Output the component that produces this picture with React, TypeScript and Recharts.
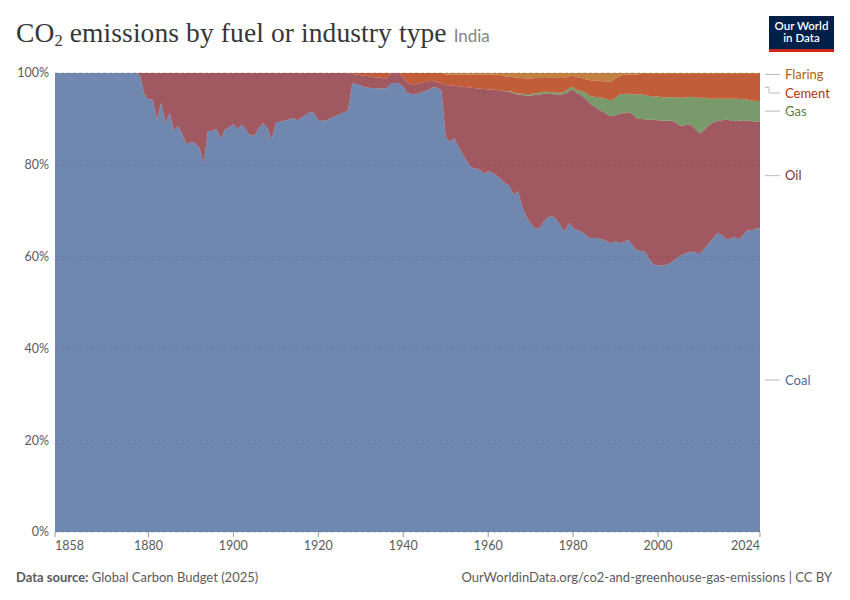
import React from "react";
import {
  AreaChart,
  Area,
  XAxis,
  YAxis,
  CartesianGrid,
  ReferenceDot,
} from "recharts";

// Years 1858..2024 (categories)
const YEARS: number[] = Array.from({ length: 167 }, (_, i) => 1858 + i);

// Shares of total CO2 emissions (%)
const COAL: number[] = [
  100, 100, 100, 100, 100, 100, 100, 100, 100, 100, 100, 100, 100, 100, 100, 100, 100, 100, 100, 100,
  99.5, 95.5, 94.2, 94.2, 89.8, 93.5, 89.1, 91.3, 87.4, 88.4,
  86.6, 84.4, 85.0, 84.7, 83.7, 80.4, 87.3, 87.4, 87.8, 85.8,
  87.6, 88.2, 88.9, 87.8, 88.7, 87.6, 86.4, 86.4, 88.0, 89.1,
  88.0, 85.5, 89.1, 89.4, 89.6, 89.8, 90.2, 89.7, 90.2, 90.8,
  91.5, 91.3, 89.6, 89.6, 89.7, 90.2, 90.6, 91.0, 91.4, 91.9,
  97.7, 97.6, 97.3, 96.9, 96.8, 96.7, 96.6, 96.6, 96.6, 97.6,
  97.8, 97.8, 97.0, 95.6, 95.4, 95.3, 95.7, 96.0, 96.3, 96.9,
  96.8, 96.2, 86.0, 85.0, 85.8, 84.0, 82.3, 80.7, 79.4, 79.2,
  78.9, 78.1, 78.6, 78.2, 77.6, 76.8, 76.0, 75.4, 73.4, 74.3,
  70.9, 68.7, 67.2, 66.2, 66.1, 67.5, 68.5, 68.8, 68.2, 66.8,
  65.4, 67.3, 66.2, 65.8, 65.4, 64.7, 63.9, 64.1, 63.9, 63.8,
  63.3, 62.9, 63.4, 62.9, 63.2, 63.6, 62.5, 61.4, 61.2, 61.0,
  59.3, 58.2, 58.1, 58.0, 58.2, 58.6, 59.3, 60.0, 60.5, 60.9,
  61.1, 60.8, 60.8, 61.8, 63.0, 64.0, 65.2, 64.7, 63.8, 63.9,
  64.2, 63.8, 64.6, 65.8, 65.6, 66.2, 66.2,
];

const OIL: number[] = [
  0, 0, 0, 0, 0, 0, 0, 0, 0, 0, 0, 0, 0, 0, 0, 0, 0, 0, 0, 0,
  0.5, 4.5, 5.8, 5.8, 10.2, 6.5, 10.9, 8.7, 12.6, 11.6,
  13.4, 15.6, 15.0, 15.3, 16.3, 19.6, 12.7, 12.6, 12.2, 14.2,
  12.4, 11.8, 11.1, 12.2, 11.3, 12.4, 13.6, 13.6, 12.0, 10.9,
  12.0, 14.5, 10.9, 10.6, 10.4, 10.2, 9.8, 10.3, 9.8, 9.2,
  8.5, 8.7, 10.4, 10.4, 10.3, 9.8, 9.4, 9.0, 8.6, 8.1,
  2.1, 2.1, 2.2, 2.5, 2.5, 2.4, 2.4, 2.3, 2.1, 2.3,
  2.2, 2.2, 2.0, 2.2, 2.2, 2.2, 2.1, 2.0, 1.9, 1.4,
  1.2, 1.5, 11.4, 12.3, 11.4, 13.1, 14.7, 16.2, 17.4, 17.5,
  17.7, 18.4, 17.8, 18.2, 18.7, 19.4, 20.0, 20.5, 22.2, 21.0,
  24.3, 26.4, 27.9, 29.0, 29.2, 27.9, 27.0, 26.6, 27.1, 28.5,
  30.0, 28.7, 30.2, 29.8, 29.7, 29.6, 29.4, 28.6, 28.1, 27.8,
  27.7, 27.7, 27.4, 28.2, 28.1, 27.9, 28.5, 28.7, 28.8, 28.9,
  30.5, 31.6, 31.6, 31.6, 31.4, 31.0, 30.1, 28.6, 28.0, 28.0,
  27.4, 26.8, 26.0, 26.0, 25.6, 25.2, 24.3, 25.0, 26.0, 25.8,
  25.3, 25.8, 25.1, 23.8, 23.9, 23.2, 23.3,
];

const GAS: number[] = [
  0, 0, 0, 0, 0, 0, 0, 0, 0, 0, 0, 0, 0, 0, 0, 0, 0, 0, 0, 0,
  0, 0, 0, 0, 0, 0, 0, 0, 0, 0, 0, 0, 0, 0, 0, 0, 0, 0, 0, 0,
  0, 0, 0, 0, 0, 0, 0, 0, 0, 0, 0, 0, 0, 0, 0, 0, 0, 0, 0, 0,
  0, 0, 0, 0, 0, 0, 0, 0, 0, 0, 0, 0, 0, 0, 0, 0, 0, 0, 0, 0,
  0, 0, 0, 0, 0, 0, 0, 0, 0, 0, 0, 0, 0, 0, 0, 0, 0, 0, 0, 0,
  0, 0, 0, 0, 0, 0,
  0.1, 0.2, 0.2, 0.2,
  0.3, 0.3, 0.3, 0.4, 0.4, 0.5, 0.4, 0.4, 0.4, 0.4,
  0.5, 0.7, 0.6, 0.6, 1.0, 1.4, 1.7, 2.1, 2.6, 3.0,
  3.2, 3.4, 3.8, 4.2, 4.2, 4.0, 4.3, 5.2, 5.3, 5.3,
  5.2, 5.1, 5.2, 5.1, 5.1, 5.1, 5.3, 6.0, 6.1, 5.8,
  6.3, 7.0, 7.8, 6.8, 5.8, 5.2, 4.9, 4.7, 4.6, 4.7,
  4.9, 4.8, 4.6, 4.6, 4.5, 4.5, 4.4,
];

const CEMENT: number[] = [
  0, 0, 0, 0, 0, 0, 0, 0, 0, 0, 0, 0, 0, 0, 0, 0, 0, 0, 0, 0,
  0, 0, 0, 0, 0, 0, 0, 0, 0, 0, 0, 0, 0, 0, 0, 0, 0, 0, 0, 0,
  0, 0, 0, 0, 0, 0, 0, 0, 0, 0, 0, 0, 0, 0, 0, 0, 0, 0, 0, 0,
  0, 0, 0, 0, 0, 0, 0, 0, 0, 0,
  0.2, 0.3, 0.5, 0.6, 0.7, 0.9, 1.0, 1.1, 1.3, 0.1,
  0.0, 0.0, 1.0, 2.2, 2.4, 2.5, 2.2, 2.0, 1.8, 1.7,
  2.0, 2.3, 2.3, 2.4, 2.5, 2.6, 2.7, 2.8, 2.9, 3.0,
  3.1, 3.2, 3.3, 3.3, 3.4, 3.3, 3.2, 3.1, 3.3, 3.5,
  3.4, 3.4, 3.4, 3.3, 3.2, 3.0, 3.0, 3.1, 3.2, 3.2,
  3.0, 2.6, 2.4, 2.9, 2.8, 2.9, 3.4, 3.5, 3.7, 3.6,
  3.9, 4.1, 4.3, 4.1, 4.1, 4.2, 4.4, 4.4, 4.5, 4.6,
  4.8, 4.9, 4.9, 5.1, 5.1, 5.1, 5.1, 5.2, 5.2, 5.1,
  5.0, 5.2, 5.2, 5.2, 5.4, 5.4, 5.4, 5.4, 5.4, 5.4,
  5.4, 5.4, 5.5, 5.6, 5.8, 5.9, 5.9,
];

const FLARING: number[] = [
  0, 0, 0, 0, 0, 0, 0, 0, 0, 0, 0, 0, 0, 0, 0, 0, 0, 0, 0, 0,
  0, 0, 0, 0, 0, 0, 0, 0, 0, 0, 0, 0, 0, 0, 0, 0, 0, 0, 0, 0,
  0, 0, 0, 0, 0, 0, 0, 0, 0, 0, 0, 0, 0, 0, 0, 0, 0, 0, 0, 0,
  0, 0, 0, 0, 0, 0, 0, 0, 0, 0, 0, 0, 0, 0, 0, 0, 0, 0, 0, 0,
  0, 0, 0, 0, 0, 0, 0, 0, 0, 0, 0, 0,
  0.3, 0.3, 0.3, 0.3, 0.3, 0.3, 0.3, 0.3, 0.3, 0.3, 0.3, 0.3, 0.3,
  0.5, 0.7, 0.8, 0.9, 1.0, 1.1, 1.2, 1.2, 1.1, 1.1,
  1.1, 1.1, 1.1, 1.1, 1.1, 1.1, 0.7, 0.6, 0.9, 1.1,
  1.4, 1.6, 1.7, 1.7, 1.8, 1.9, 1.9, 1.1, 0.6, 0.4,
  0.3, 0.3, 0.3, 0.2, 0.2, 0.2, 0.2, 0.2, 0.2, 0.2,
  0.2, 0.2, 0.2, 0.2, 0.2, 0.2, 0.2, 0.2, 0.2, 0.2, 0.2,
  0.2, 0.2, 0.2, 0.2, 0.2, 0.2, 0.2, 0.2, 0.2, 0.2, 0.2,
];

const X_TICKS: number[] = [1858, 1880, 1900, 1920, 1940, 1960, 1980, 2000, 2024];
const Y_TICKS: number[] = [0, 0.2, 0.4, 0.6, 0.8, 1];

type Series = { key: string; name: string; color: string; values: number[]; labelDy: number };

const SERIES: Series[] = [
  { key: "coal", name: "Coal", color: "#4C6A9C", values: COAL, labelDy: 0 },
  { key: "oil", name: "Oil", color: "#883039", values: OIL, labelDy: 1 },
  { key: "gas", name: "Gas", color: "#578145", values: GAS, labelDy: 0 },
  { key: "cement", name: "Cement", color: "#B13507", values: CEMENT, labelDy: 5.5 },
  { key: "flaring", name: "Flaring", color: "#B16214", values: FLARING, labelDy: 1 },
];

const data = YEARS.map((year, i) => {
  const row: Record<string, number> = { year };
  SERIES.forEach((s) => {
    row[s.key] = s.values[i];
  });
  return row;
});

// legend anchor positions (midpoint of each band in last year)
const lastIdx = YEARS.length - 1;
const lastTotal = SERIES.reduce((a, s) => a + s.values[lastIdx], 0);
let cum = 0;
const legendAnchors = SERIES.map((s) => {
  const v = s.values[lastIdx];
  const mid = (cum + v / 2) / lastTotal;
  cum += v;
  return { ...s, mid };
});

const FONT = "Lato, 'Noto Sans', sans-serif";

const XTick = (props: any) => {
  const { x, y, payload } = props;
  const v = payload.value;
  const anchor = v === X_TICKS[0] ? "start" : v === X_TICKS[X_TICKS.length - 1] ? "end" : "middle";
  return (
    <text x={x} y={y} dy="0.71em" textAnchor={anchor} fill="#5b5b5b" fontSize={12.5} fontFamily={FONT}>
      {v}
    </text>
  );
};

const LegendMark = (props: any) => {
  const { cx, cy, name, color, labelDy } = props;
  if (cx == null || cy == null) return null;
  const ly = cy + labelDy;
  const d =
    Math.abs(labelDy) > 2
      ? `M${cx + 5},${cy} H${cx + 9} V${ly} H${cx + 20}`
      : `M${cx + 5},${ly} H${cx + 20}`;
  return (
    <g>
      <path d={d} stroke="#bbbbbb" strokeWidth={1} fill="none" />
      <text x={cx + 25} y={ly} dy="0.35em" fill={color} fontSize={13} fontFamily={FONT}>
        {name}
      </text>
    </g>
  );
};

export default function App() {
  return (
    <div
      style={{
        position: "absolute",
        left: 0,
        top: 0,
        width: 850,
        height: 600,
        background: "#fff",
        fontFamily: FONT,
        overflow: "hidden",
      }}
    >
      <div
        style={{
          position: "absolute",
          left: 16,
          top: 16,
          whiteSpace: "nowrap",
          color: "#373737",
          fontFamily: "'Liberation Serif', 'DejaVu Serif', serif",
          fontSize: 27.5,
          lineHeight: "34px",
          letterSpacing: "0.1px",
        }}
      >
        CO<sub style={{ fontSize: "0.6em", verticalAlign: "-0.25em" }}>2</sub> emissions by fuel or industry type{" "}
        <span style={{ fontFamily: FONT, fontSize: 17, color: "#858585", letterSpacing: 0 }}>India</span>
      </div>

      <div
        style={{
          position: "absolute",
          left: 769,
          top: 16,
          width: 65,
          height: 36,
          background: "#002147",
          borderBottom: "3px solid #ce261e",
          boxSizing: "border-box",
          color: "#fff",
          fontFamily: FONT,
          fontSize: 11.5,
          fontWeight: 600,
          lineHeight: "12px",
          textAlign: "center",
          paddingTop: 4,
        }}
      >
        Our World
        <br />
        in Data
      </div>

      <div style={{ position: "absolute", left: 0, top: 0 }}>
        <AreaChart
          width={850}
          height={600}
          data={data}
          stackOffset="expand"
          margin={{ top: 73, right: 90, bottom: 38, left: 0 }}
        >
          <CartesianGrid vertical={false} stroke="#c4c4c4" strokeDasharray="3 3" />
          <XAxis
            dataKey="year"
            type="number"
            domain={[1858, 2024]}
            ticks={X_TICKS}
            interval={0}
            height={30}
            axisLine={false}
            tickLine={{ stroke: "#999999" }}
            tickSize={5}
            tickMargin={4}
            tick={<XTick />}
          />
          <YAxis
            type="number"
            domain={[0, 1]}
            ticks={Y_TICKS}
            width={55}
            axisLine={false}
            tickLine={false}
            tickSize={0}
            tickMargin={6}
            tickFormatter={(v: number) => `${Math.round(v * 100)}%`}
            tick={{ fill: "#5b5b5b", fontSize: 12.5, fontFamily: FONT }}
          />
          {SERIES.map((s) => (
            <Area
              key={s.key}
              type="linear"
              dataKey={s.key}
              name={s.name}
              stackId="1"
              stroke="none"
              fill={s.color}
              fillOpacity={0.8}
              isAnimationActive={false}
              dot={false}
              activeDot={false}
            />
          ))}
          {legendAnchors.map((s) => (
            <ReferenceDot
              key={`lg-${s.key}`}
              x={2024}
              y={s.mid}
              r={0}
              ifOverflow="visible"
              shape={(p: any) => <LegendMark {...p} name={s.name} color={s.color} labelDy={s.labelDy} />}
            />
          ))}
        </AreaChart>
      </div>

      <div
        style={{
          position: "absolute",
          left: 16,
          top: 568,
          fontSize: 13,
          color: "#5b5b5b",
          whiteSpace: "nowrap",
          lineHeight: "18px",
        }}
      >
        <span style={{ fontWeight: 700 }}>Data source:</span> Global Carbon Budget (2025)
      </div>
      <div
        style={{
          position: "absolute",
          right: 18,
          top: 568,
          fontSize: 13,
          color: "#5b5b5b",
          whiteSpace: "nowrap",
          lineHeight: "18px",
        }}
      >
        OurWorldinData.org/co2-and-greenhouse-gas-emissions | CC BY
      </div>
    </div>
  );
}
